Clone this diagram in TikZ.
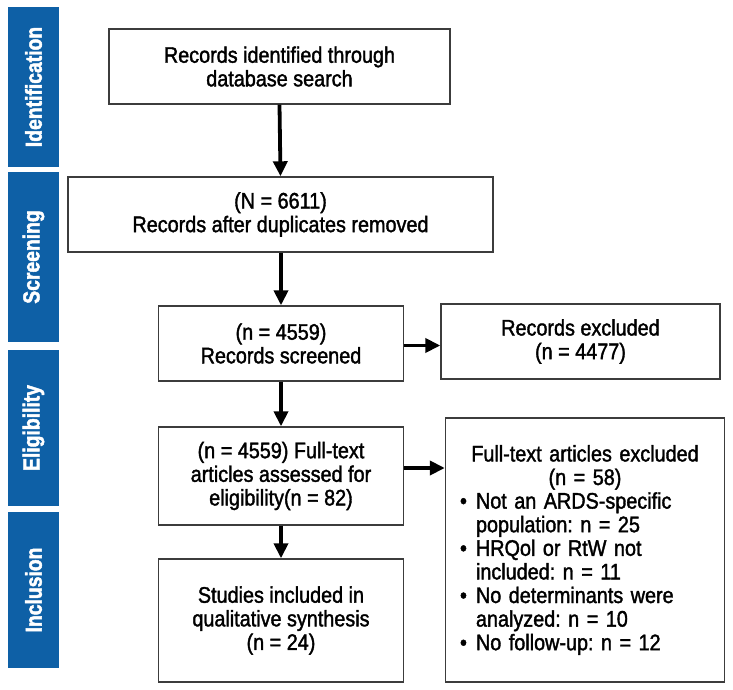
\documentclass[tikz,border=0pt]{standalone}
\usepackage{fontspec}
\setmainfont[FakeStretch=0.88,FakeBold=1.6]{Liberation Sans}
\newfontfamily\barfont[FakeStretch=0.84,FakeBold=2]{Liberation Sans}
\usetikzlibrary{arrows.meta}
\definecolor{barblue}{RGB}{14,96,166}
\definecolor{boxline}{RGB}{60,60,60}
\tikzset{
  box/.style={draw=boxline, line width=1.4pt, fill=white, align=center, inner sep=2pt,
    font=\frenchspacing\fontsize{22.5}{23.6}\selectfont},
  sidebar/.style={fill=barblue, text=white, rotate=90, minimum height=51pt,
    font=\barfont\bfseries\fontsize{23}{23}\selectfont},
  flow/.style={line width=3.8pt, -{Triangle[width=14pt,length=15pt]}},
}
\begin{document}
\begin{tikzpicture}[x=1pt,y=1pt]
\useasboundingbox (0,0) rectangle (733,-690);
% side bars
\node[sidebar, minimum width=160pt] (sid) at (33.5,-87) {Identification};
\node[sidebar, minimum width=170pt] (sscr) at (33.5,-257) {Screening};
\node[sidebar, minimum width=156pt] (selig) at (33.5,-428) {Eligibility};
\node[sidebar, minimum width=156pt] (sinc) at (33.5,-590) {Inclusion};
% boxes
\node[box, minimum width=341pt, minimum height=75pt] (b1) at (279.5,-66.5)
  {Records identified through\\database search};
\node[box, minimum width=425pt, minimum height=75pt] (b2) at (280.5,-214.5)
  {(N = 6611)\\Records after duplicates removed};
\node[box, minimum width=245pt, minimum height=75pt] (b3) at (281,-343.5)
  {(n = 4559)\\Records screened};
\node[box, minimum width=279pt, minimum height=75pt] (b4) at (580.5,-341.5)
  {Records excluded\\(n = 4477)};
\node[box, minimum width=245pt, minimum height=98pt] (b5) at (281,-476)
  {(n = 4559) Full-text\\articles assessed for\\eligibility(n = 82)};
\node[box, minimum width=245pt, minimum height=123pt] (b7) at (281,-620.5)
  {Studies included in\\qualitative synthesis\\(n = 24)};
\node[box, minimum width=279pt, minimum height=264pt, text width=250pt, align=left] (b6) at (585,-550)
  {\makebox[\linewidth][c]{Full-text articles excluded}\\
   \makebox[\linewidth][c]{(n = 58)}\\
   \makebox[16pt][l]{•}Not an ARDS-specific\\
   \hspace*{16pt}population: n = 25\\
   \makebox[16pt][l]{•}HRQol or RtW not\\
   \hspace*{16pt}included: n = 11\\
   \makebox[16pt][l]{•}No determinants were\\
   \hspace*{16pt}analyzed: n = 10\\
   \makebox[16pt][l]{•}No follow-up: n = 12};
% connectors
\draw[flow] (b1.south) -- (b2.north);
\draw[flow] (b2.south -| b3.north) -- (b3.north);
\draw[flow] (b3.south) -- (b5.north);
\draw[flow] (b5.south) -- (b7.north);
\draw[flow] ([yshift=-2pt]b3.east) -- ([yshift=-2pt]b3.east -| b4.west);
\draw[flow] ([yshift=8pt]b5.east) -- ([yshift=8pt]b5.east -| b6.west);
\end{tikzpicture}
\end{document}
